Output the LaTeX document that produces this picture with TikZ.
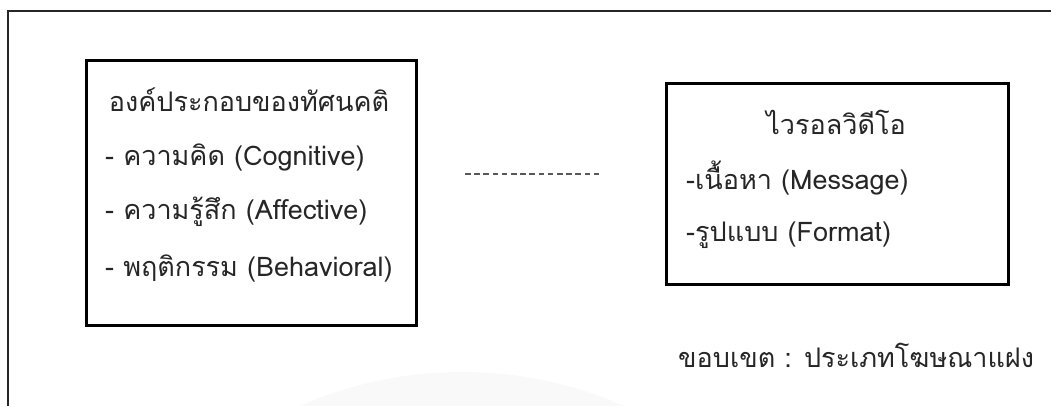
\documentclass[tikz,border=0pt]{standalone}
\usepackage{fontspec}
\newfontfamily\thaifont[Script=Thai]{Loma}
\begin{document}
\begin{tikzpicture}[x=1pt,y=-1pt,
  box/.style={draw=black,line width=2.8pt},
  txt/.style={font=\thaifont\fontsize{27}{32}\selectfont,inner sep=0pt,text=black!85},
  frame/.style={draw=black!85,line width=2pt},
  link/.style={draw=black!65,line width=1.6pt,dash pattern=on 5.5pt off 3.7pt}]
\useasboundingbox (0,0) rectangle (1051,405);
\begin{scope}
\clip (0,0) rectangle (1051,405);
\fill[black!2.5] (462,776) circle (404);
\end{scope}
% outer frame
\coordinate (f1) at (8,410);
\coordinate (f2) at (8,11);
\coordinate (f3) at (1060,11);
\draw[frame] (f1) -- (f2) -- (f3);
% left box
\node[box,minimum width=330pt,minimum height=265pt,anchor=north west,inner sep=0pt] (L) at (85,59) {};
\node[txt] (Lt) at (249,100) {องค์ประกอบของทัศนคติ};
\node[txt,anchor=west] (L1) at (105,157) {- ความคิด (Cognitive)};
\node[txt,anchor=west] (L2) at (105,212) {- ความรู้สึก (Affective)};
\node[txt,anchor=west] (L3) at (105,268) {- พฤติกรรม (Behavioral)};
% right box
\node[box,minimum width=342pt,minimum height=201pt,anchor=north west,inner sep=0pt] (R) at (665,82) {};
\node[txt] (Rt) at (836,122) {ไวรอลวิดีโอ};
\node[txt,anchor=west] (R1) at (686,178) {-เนื้อหา (Message)};
\node[txt,anchor=west] (R2) at (686,235) {-รูปแบบ (Format)};
\node[txt,anchor=west] (S) at (678,355) {ขอบเขต : ประเภทโฆษณาแฝง};
% dashed link
\coordinate (d1) at (465,174);
\coordinate (d2) at (602,174);
\draw[link] (d1) -- (d2);
\end{tikzpicture}
\end{document}
